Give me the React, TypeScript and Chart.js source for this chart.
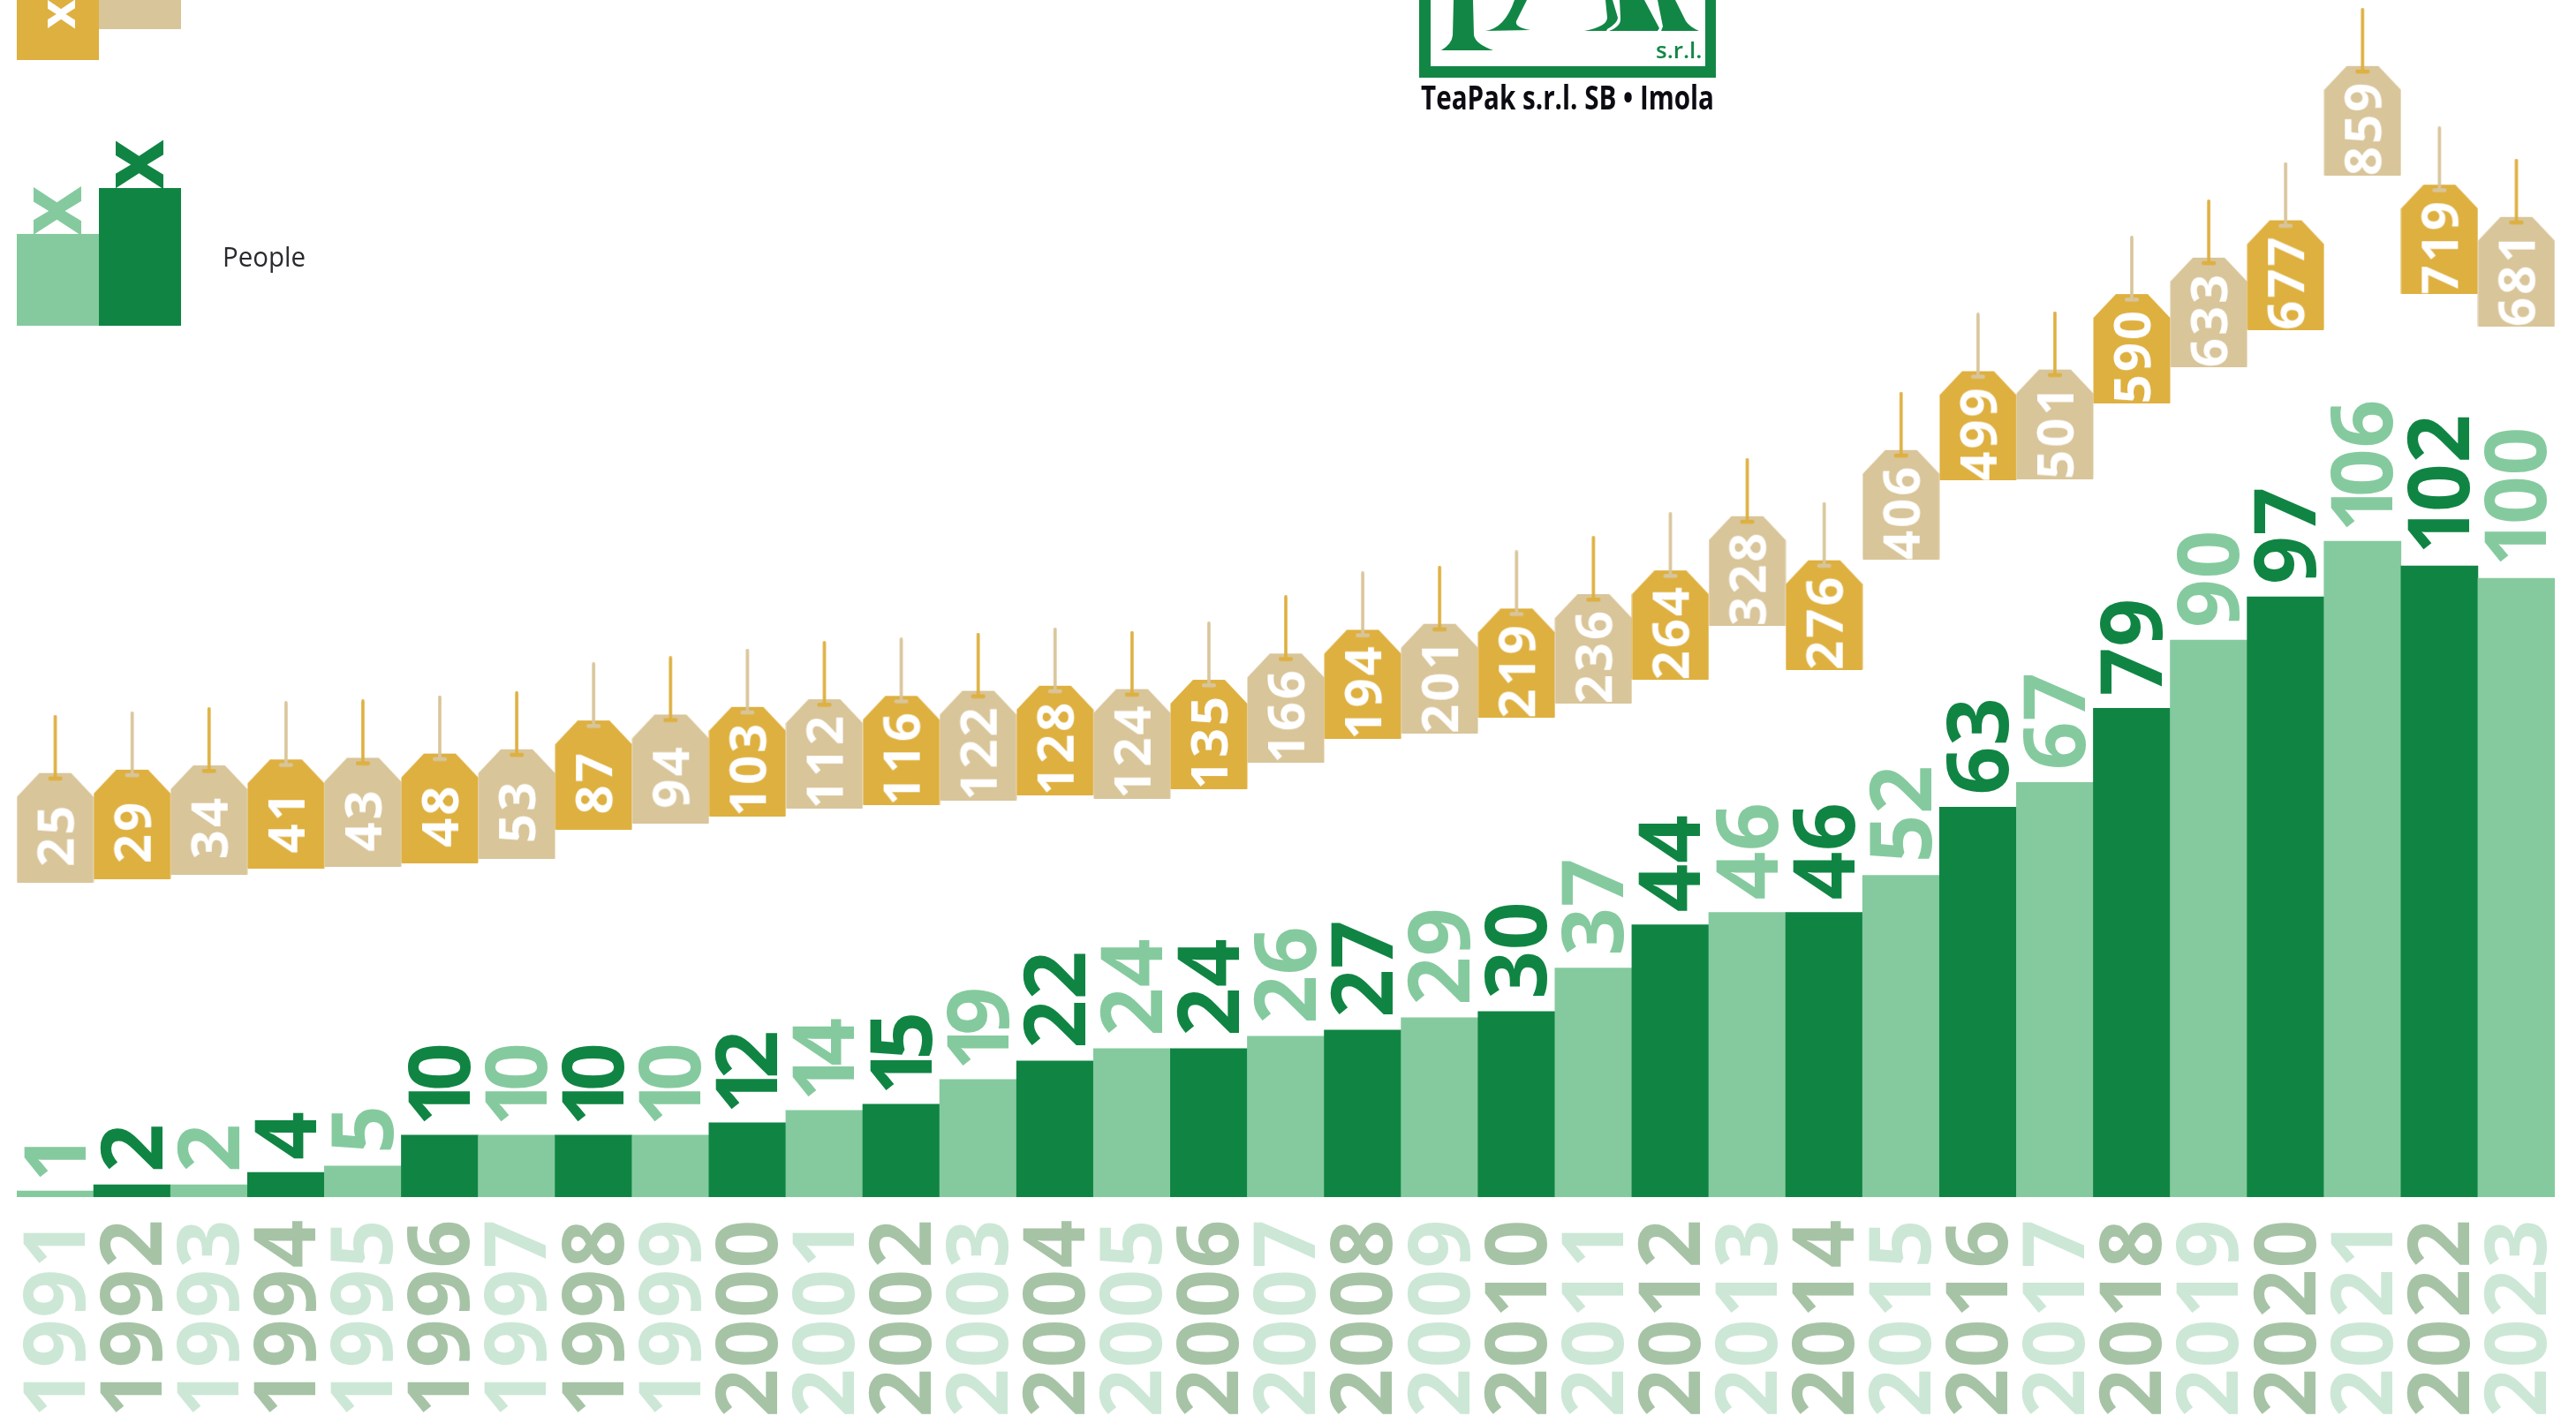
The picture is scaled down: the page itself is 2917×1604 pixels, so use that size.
import React, { useEffect, useRef } from "react";
import { Chart, registerables } from "chart.js";

Chart.register(...registerables);

const years = [
  "1991", "1992", "1993", "1994", "1995", "1996", "1997", "1998", "1999", "2000", "2001",
  "2002", "2003", "2004", "2005", "2006", "2007", "2008", "2009", "2010", "2011", "2012",
  "2013", "2014", "2015", "2016", "2017", "2018", "2019", "2020", "2021", "2022", "2023",
];
const people = [
  1, 2, 2, 4, 5, 10, 10, 10, 10, 12, 14, 15, 19, 22, 24, 24, 26, 27, 29, 30, 37, 44, 46, 46, 52,
  63, 67, 79, 90, 97, 106, 102, 100,
];
const revenue = [
  25, 29, 34, 41, 43, 48, 53, 87, 94, 103, 112, 116, 122, 128, 124, 135, 166, 194, 201, 219, 236,
  264, 328, 276, 406, 499, 501, 590, 633, 677, 859, 719, 681,
];
// Counts whose leading "1" keeps its full width instead of being set tight.
const wideOneCounts = [100, 102];

const GOLD = "#DEB040";
const TAN = "#D9C59A";
const GREEN_DARK = "#108543";
const GREEN_LIGHT = "#85CA9E";
const YEAR_DARK = "#A6C3A6";
const YEAR_LIGHT = "#CCE7D6";
const LOGO_GREEN = "#128745";
const FONT = '"Open Sans", "Noto Sans", sans-serif';

const isEven = (i: number) => i % 2 === 0;

// Renders one hanging price tag, with its string, as a point image.
function makeTag(value: number, index: number): HTMLCanvasElement {
  const W = 88;
  const H = 190;
  const top = 66;
  const c = document.createElement("canvas");
  c.width = W;
  c.height = H;
  const g = c.getContext("2d")! as any;
  const body = isEven(index) ? TAN : GOLD;
  const cord = isEven(index) ? GOLD : TAN;
  g.fillStyle = body;
  g.beginPath();
  g.moveTo(26, top);
  g.lineTo(62, top);
  g.lineTo(87.5, top + 27);
  g.lineTo(87.5, H - 1);
  g.quadraticCurveTo(87.5, H, 86.5, H);
  g.lineTo(1.5, H);
  g.quadraticCurveTo(0.5, H, 0.5, H - 1);
  g.lineTo(0.5, top + 27);
  g.closePath();
  g.fill();
  g.fillStyle = cord;
  g.beginPath();
  g.roundRect(42.2, 0, 3.6, top + 5, 1.8);
  g.fill();
  g.beginPath();
  g.roundRect(36, top + 4, 16, 4.5, 2);
  g.fill();
  g.save();
  g.translate(W / 2, top + 70);
  g.rotate(-Math.PI / 2);
  g.fillStyle = "#ffffff";
  g.font = `700 58px ${FONT}`;
  g.letterSpacing = "3px";
  g.textAlign = "center";
  g.textBaseline = "alphabetic";
  g.fillText(String(value), 0, 21);
  g.restore();
  return c;
}

function rotatedText(
  ctx: CanvasRenderingContext2D,
  text: string,
  x: number,
  y: number,
  font: string,
  color: string,
  align: CanvasTextAlign,
  lift: number,
) {
  ctx.save();
  ctx.translate(x, y);
  ctx.rotate(-Math.PI / 2);
  ctx.font = font;
  ctx.fillStyle = color;
  ctx.textAlign = align;
  ctx.textBaseline = "alphabetic";
  ctx.fillText(text, 0, lift);
  ctx.restore();
}

// Slightly looser digit spacing for the year ticks; released before the marks are drawn.
const yearSpacing = {
  id: "yearSpacing",
  beforeDraw(chart: any) {
    chart.ctx.letterSpacing = "1.5px";
  },
  beforeDatasetsDraw(chart: any) {
    chart.ctx.letterSpacing = "0px";
  },
};

// Head count written along each bar, just above its top. A leading "1" is usually set tight.
const barLabels = {
  id: "barLabels",
  afterDatasetsDraw(chart: any) {
    const meta = chart.getDatasetMeta(1);
    const ctx = chart.ctx;
    const font = `700 96px ${FONT}`;
    meta.data.forEach((bar: any, i: number) => {
      const color = isEven(i) ? GREEN_LIGHT : GREEN_DARK;
      const wideOne = wideOneCounts.includes(people[i]);
      let pen = bar.y - 14;
      for (const digit of String(people[i])) {
        if (digit === "1") {
          rotatedText(ctx, digit, bar.x, pen + (wideOne ? 1 : 4), font, color, "left", 34);
          pen -= wideOne ? 47 : 36;
        } else {
          rotatedText(ctx, digit, bar.x, pen, font, color, "left", 34);
          pen -= 55.5;
        }
      }
    });
  },
};

// Key swatches at the top left.
const keyPanel = {
  id: "keyPanel",
  afterDraw(chart: any) {
    const ctx = chart.ctx;
    ctx.save();
    ctx.fillStyle = GOLD;
    ctx.fillRect(19, 0, 93, 68);
    ctx.fillStyle = TAN;
    ctx.fillRect(112, 0, 93, 33);
    rotatedText(ctx, "x", 69, 16, `700 58px ${FONT}`, "#ffffff", "center", 16);
    ctx.fillStyle = GREEN_LIGHT;
    ctx.fillRect(19, 265, 93, 104);
    ctx.fillStyle = GREEN_DARK;
    ctx.fillRect(112, 213, 93, 156);
    rotatedText(ctx, "x", 65.5, 239, `700 98px ${FONT}`, GREEN_LIGHT, "center", 26);
    rotatedText(ctx, "x", 159, 186.5, `700 98px ${FONT}`, GREEN_DARK, "center", 26);
    ctx.font = `400 31px ${FONT}`;
    ctx.fillStyle = "#2a2a2e";
    ctx.textAlign = "left";
    ctx.textBaseline = "alphabetic";
    ctx.fillText("People", 252, 302, 94);
    ctx.restore();
  },
};

// Company mark: framed lettering and the caption below it.
const companyMark = {
  id: "companyMark",
  afterDraw(chart: any) {
    const ctx = chart.ctx;
    const ox = 1600;
    ctx.save();
    ctx.fillStyle = LOGO_GREEN;
    ctx.fillRect(1607, 0, 13, 88);
    ctx.fillRect(1931, 0, 12, 88);
    ctx.fillRect(1607, 75, 336, 13);
    // T
    ctx.beginPath();
    ctx.moveTo(ox + 46, 0);
    ctx.lineTo(ox + 68, 0);
    ctx.lineTo(ox + 69, 40);
    ctx.quadraticCurveTo(ox + 71, 50, ox + 91, 57);
    ctx.lineTo(ox + 32, 57);
    ctx.quadraticCurveTo(ox + 44, 50, ox + 45, 40);
    ctx.closePath();
    ctx.fill();
    // A
    ctx.beginPath();
    ctx.moveTo(ox + 115, 0);
    ctx.lineTo(ox + 129, 0);
    ctx.lineTo(ox + 117, 24);
    ctx.quadraticCurveTo(ox + 115, 31, ox + 133, 34);
    ctx.lineTo(ox + 82, 35);
    ctx.quadraticCurveTo(ox + 104, 32, ox + 115, 0);
    ctx.closePath();
    ctx.fill();
    // K
    ctx.beginPath();
    ctx.moveTo(ox + 218, 0);
    ctx.lineTo(ox + 226, 0);
    ctx.lineTo(ox + 232, 20);
    ctx.quadraticCurveTo(ox + 232, 26, ox + 220, 33);
    ctx.lineTo(ox + 219, 35);
    ctx.lineTo(ox + 194, 35);
    ctx.quadraticCurveTo(ox + 220, 30, ox + 220, 20);
    ctx.closePath();
    ctx.fill();
    ctx.beginPath();
    ctx.moveTo(ox + 234, 0);
    ctx.lineTo(ox + 262, 0);
    ctx.lineTo(ox + 279, 32);
    ctx.lineTo(ox + 277, 35);
    ctx.lineTo(ox + 222, 35);
    ctx.quadraticCurveTo(ox + 236, 30, ox + 235, 20);
    ctx.closePath();
    ctx.fill();
    ctx.beginPath();
    ctx.moveTo(ox + 277, 0);
    ctx.lineTo(ox + 297, 0);
    ctx.lineTo(ox + 309, 24);
    ctx.quadraticCurveTo(ox + 314, 31, ox + 324, 35);
    ctx.lineTo(ox + 281, 35);
    ctx.lineTo(ox + 283, 30);
    ctx.closePath();
    ctx.fill();
    ctx.textBaseline = "alphabetic";
    ctx.textAlign = "left";
    ctx.font = `600 26px ${FONT}`;
    ctx.fillText("s.r.l.", 1875, 66, 53);
    ctx.font = `700 37px ${FONT}`;
    ctx.fillStyle = "#0b0b12";
    ctx.fillText("TeaPak s.r.l. SB • Imola", 1609, 124, 332);
    ctx.restore();
  },
};

export default function App() {
  const ref = useRef<HTMLCanvasElement>(null);

  useEffect(() => {
    const chart = new Chart(ref.current!, {
      type: "bar",
      data: {
        labels: years,
        datasets: [
          {
            type: "line",
            label: "Revenue",
            data: revenue,
            yAxisID: "yTags",
            showLine: false,
            clip: false,
            pointRadius: 1,
            pointHoverRadius: 1,
            pointStyle: revenue.map(makeTag),
            order: 0,
          },
          {
            type: "bar",
            label: "People",
            data: people,
            yAxisID: "yPeople",
            backgroundColor: people.map((_, i) => (isEven(i) ? GREEN_LIGHT : GREEN_DARK)),
            categoryPercentage: 1,
            barPercentage: 1,
            borderWidth: 0,
            order: 1,
          },
        ],
      } as any,
      options: {
        responsive: false,
        animation: false,
        devicePixelRatio: 1,
        layout: { padding: { left: 19, right: 24, top: 0, bottom: 0 } },
        plugins: { legend: { display: false }, tooltip: { enabled: false } },
        scales: {
          x: {
            offset: true,
            grid: { display: false },
            border: { display: false },
            afterFit(scale: any) {
              scale.height = 248;
              scale.paddingLeft = 0;
              scale.paddingRight = 0;
            },
            ticks: {
              autoSkip: false,
              minRotation: 90,
              maxRotation: 90,
              padding: 16,
              labelOffset: 6,
              font: { family: FONT, size: 96, weight: 700 },
              color: (c: any) => (isEven(c.index) ? YEAR_LIGHT : YEAR_DARK),
            },
          },
          yPeople: { display: false, min: 0, max: 193.16 },
          yTags: { display: false, min: -445, max: 965 },
        },
      } as any,
      plugins: [yearSpacing, barLabels, keyPanel, companyMark],
    });
    return () => chart.destroy();
  }, []);

  return (
    <canvas
      ref={ref}
      width={2917}
      height={1604}
      style={{ position: "absolute", left: 0, top: 0, display: "block" }}
    />
  );
}
